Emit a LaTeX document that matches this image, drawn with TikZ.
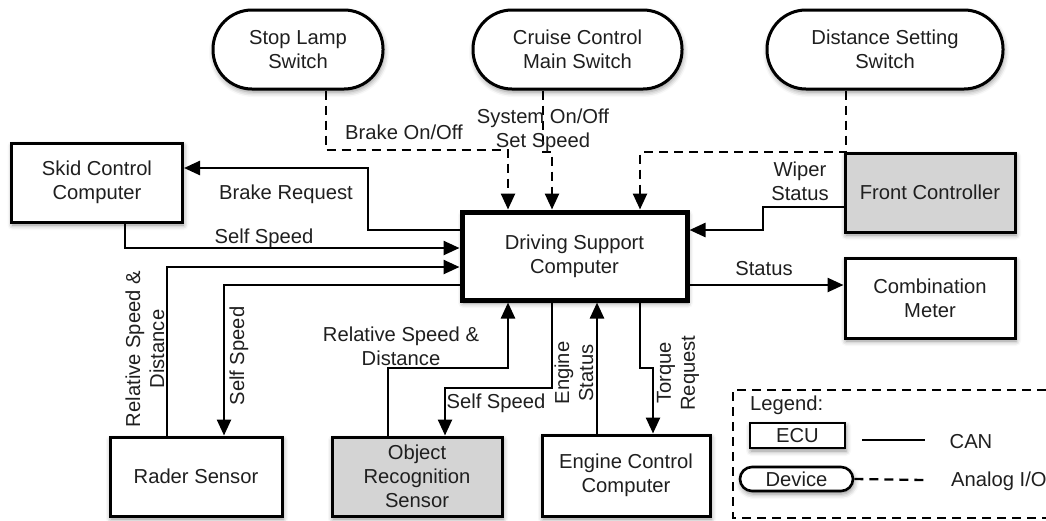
\documentclass[tikz,border=0pt]{standalone}
\usepackage{fontspec}
\setmainfont{Liberation Sans}
\usetikzlibrary{arrows.meta,calc,shadows.blur}

\begin{document}
\begin{tikzpicture}[x=1pt,y=-1pt,
  every node/.style={font=\fontsize{20.2}{24}\selectfont, text=black!88},
  shadowed/.style={blur shadow={shadow xshift=1pt, shadow yshift=-3pt, shadow blur radius=5pt, shadow opacity=45}},
  box/.style={draw, line width=3pt, minimum width=170pt, minimum height=79pt, inner sep=0pt, align=center, fill=white, shadowed},
  pill/.style={box, rounded corners=39pt},
  grayecu/.style={box, fill={rgb,255:red,212;green,212;blue,212}},
  can/.style={line width=2.5pt, -{Triangle[length=16pt,width=14pt]}},
  analog/.style={can, dash pattern=on 9pt off 6pt},
  lbl/.style={align=center, inner sep=0pt},
]
\useasboundingbox (0,0) rectangle (1046,520);

% devices
\node[pill] (stop) at (298,49.5) {Stop Lamp\\Switch};
\node[pill, minimum width=209pt] (cruise) at (577.5,49.5) {Cruise Control\\Main Switch};
\node[pill, minimum width=236pt] (dist) at (885,49.5) {Distance Setting\\Switch};

% ECUs
\node[box, minimum width=171pt] (skid) at (97,182.5) {Skid Control\\Computer};
\node[box, line width=5pt, minimum width=225pt, minimum height=88pt] (dsc) at (574.5,256) {Driving Support\\Computer};
\node[grayecu] (front) at (930,192.5) {Front Controller};
\node[box, minimum height=80pt] (comb) at (930,298) {Combination\\Meter};
\node[box, minimum width=172pt] (rader) at (196,476.5) {Rader Sensor};
\node[grayecu] (ors) at (417,476.5) {Object\\Recognition\\Sensor};
\node[box, minimum width=168pt, minimum height=81pt] (ecc) at (626,475.5) {Engine Control\\Computer};

% analog connectors
\draw[analog] ($(stop.south)+(28,0)$) |- (508,150) -- ($(dsc.north)+(-66.5,0)$);
\draw[analog] ($(cruise.south)+(-34.5,0)$) -- (543,152) -- (552,152) -- ($(dsc.north)+(-22.5,0)$);
\draw[analog] ($(dist.south)+(-39,0)$) |- (640,152) -- ($(dsc.north)+(65.5,0)$);

% CAN connectors
\draw[can] ($(front.west)+(0,14.5)$) -| (763,230) -- ($(dsc.east)+(0,-26)$);
\draw[can] ($(dsc.west)+(0,-26)$) -| (368,168) -- ($(skid.east)+(0,-14.5)$);
\draw[can] ($(skid.south)+(28,0)$) |- ($(dsc.west)+(0,-8)$);
\draw[can] ($(rader.north)+(-29,0)$) |- ($(dsc.west)+(0,11)$);
\draw[can] ($(dsc.west)+(0,29)$) -| ($(rader.north)+(28,0)$);
\draw[can] ($(ors.north)+(-29,0)$) |- (508,368) -- ($(dsc.south)+(-66.5,0)$);
\draw[can] ($(dsc.south)+(-22.5,0)$) |- (445,388) -- ($(ors.north)+(28,0)$);
\draw[can] ($(ecc.north)+(-29,0)$) -- ($(dsc.south)+(22.5,0)$);
\draw[can] ($(dsc.south)+(65.5,0)$) |- (653,368) -- ($(ecc.north)+(27,0)$);
\draw[can] ($(dsc.east)+(0,29)$) -- ($(comb.west)+(0,-13)$);

% labels
\node[lbl] (l1) at (404,132) {Brake On/Off};
\node[lbl] (l2) at (543,130) {System On/Off\\Set Speed};
\node[lbl] (l3) at (800,181) {Wiper\\Status};
\node[lbl] (l4) at (286,194) {Brake Request};
\node[lbl] (l5) at (264,238) {Self Speed};
\node[lbl] (l6) at (764,269) {Status};
\node[lbl, rotate=90] (l7) at (145,349) {Relative Speed \&\\Distance};
\node[lbl, rotate=90] (l8) at (239,356) {Self Speed};
\node[lbl] (l9) at (401,346) {Relative Speed \&\\Distance};
\node[lbl] (l10) at (496,403) {Self Speed};
\node[lbl, rotate=90] (l11) at (574,373) {Engine\\Status};
\node[lbl, rotate=90] (l12) at (678,373) {Torque\\Request};

% legend
\draw[line width=2.3pt, dash pattern=on 9pt off 6pt] (1046,390) -- (733,390) -- (733,518) -- (1046,518);
\node[lbl, anchor=west] (leg) at (750,405) {Legend:};
\node[box, line width=2.6pt, minimum width=95pt, minimum height=25pt] (lecu) at (797.5,435.5) {ECU};
\node[pill, line width=2.6pt, minimum width=113pt, minimum height=24pt, rounded corners=12pt] (ldev) at (796.5,479) {Device};
\coordinate (cana) at (862,440);
\coordinate (canb) at (925,440);
\draw[line width=1.8pt] (cana) -- (canb);
\coordinate (ana) at (ldev.east);
\coordinate (anb) at (925,480);
\draw[line width=2.3pt, dash pattern=on 9pt off 6pt] (ana) -- (anb);
\node[lbl] (lcan) at (971,442) {CAN};
\node[lbl, anchor=west] (lana) at (951,481) {Analog I/O};
\end{tikzpicture}
\end{document}
